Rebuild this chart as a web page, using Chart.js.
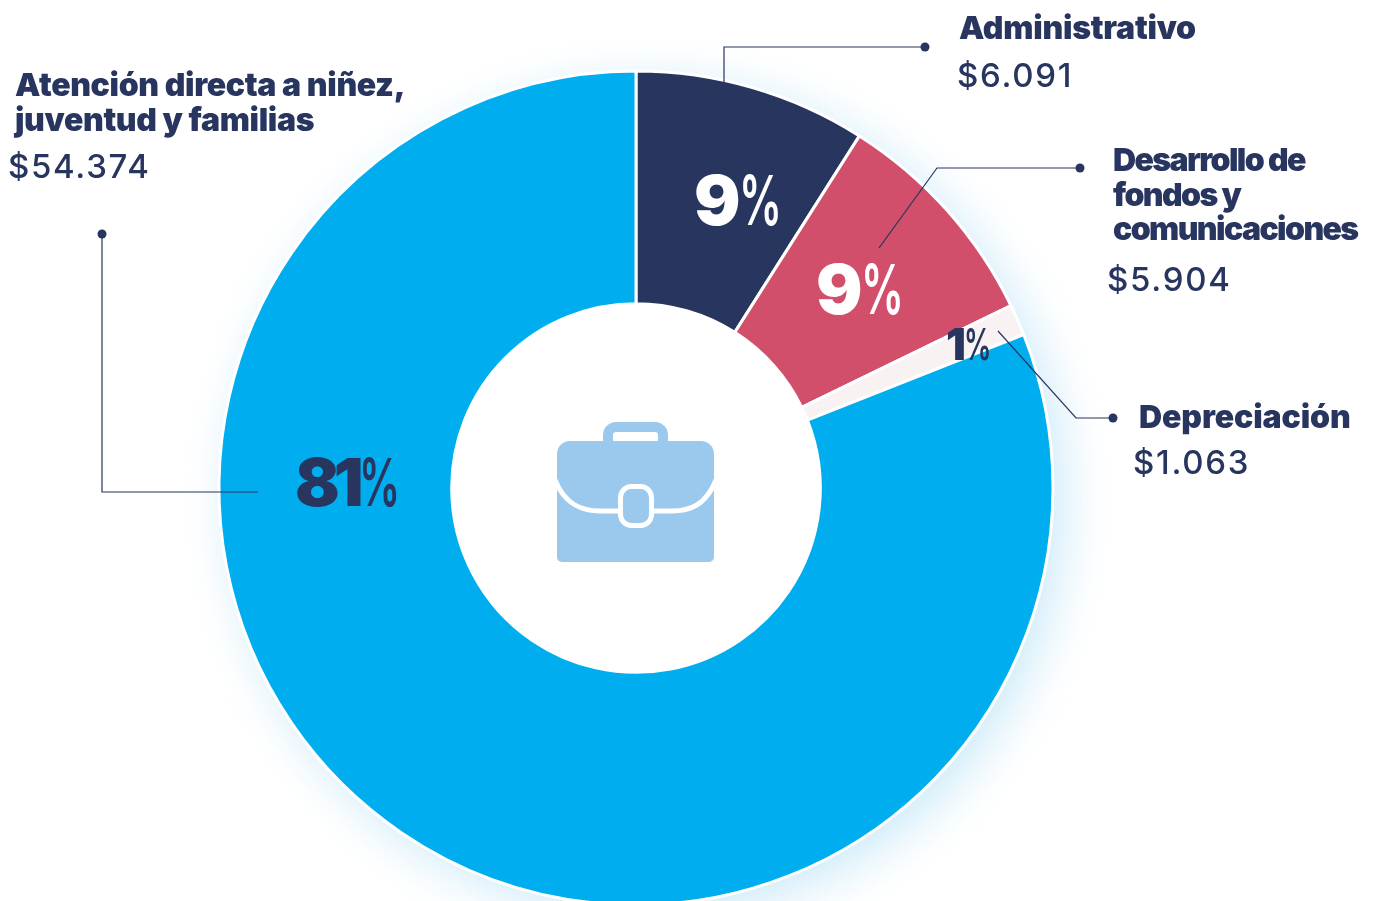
<!DOCTYPE html>
<html lang="es">
<head>
<meta charset="utf-8">
<title>Gastos</title>
<script src="https://cdn.jsdelivr.net/npm/chart.js@4"></script>
<style>
  html, body { margin: 0; width: 1375px; height: 901px; overflow: hidden; background: #fff; }
  canvas { position: absolute; left: 0; top: 0; }
  .t { position: absolute; color: #27355f; white-space: nowrap; font-family: Inter, sans-serif; }
  .name { font-weight: 900; font-size: 32px; line-height: 34.5px; }
  .amt { font-weight: 550; font-size: 33px; line-height: 40px; letter-spacing: 1.7px; }
  .pct { font-weight: 900; line-height: 1; }
  .pct span { display: inline-block; font-weight: 600; letter-spacing: 0; transform: scaleX(0.62); transform-origin: left center; margin-left: 1px; }
</style>
</head>
<body>
<canvas id="chart" width="1375" height="976"></canvas>
<div id="labels"></div>
<script>
'use strict';

const categories = ['Administrativo', 'Desarrollo de fondos y comunicaciones', 'Depreciación', 'Atención directa a niñez, juventud y familias'];
const sliceShare = [9.0, 8.8, 1.2, 81.0];
const pctLabels  = ['9', '9', '1', '81'];
const amounts    = ['$6.091', '$5.904', '$1.063', '$54.374'];
const sliceColors = ['#27355f', '#d14f6a', '#f8f2f2', '#00adee'];

const NAVY = '#27355f';

// ── GLOW BEHIND THE RING ──
const glow = {
  id: 'glow',
  beforeDatasetsDraw(chart) {
    const arc = chart.getDatasetMeta(0).data[0];
    const { ctx } = chart;
    const cx = arc.x + 12, cy = arc.y + 12;
    const g = ctx.createRadialGradient(cx, cy, arc.outerRadius - 12, cx, cy, arc.outerRadius + 52);
    g.addColorStop(0, 'rgba(190,228,248,0.55)');
    g.addColorStop(0.45, 'rgba(215,238,250,0.3)');
    g.addColorStop(1, 'rgba(255,255,255,0)');
    ctx.save();
    ctx.fillStyle = g;
    ctx.beginPath();
    ctx.arc(cx, cy, arc.outerRadius + 52, 0, Math.PI * 2);
    ctx.arc(arc.x, arc.y, arc.outerRadius - 4, 0, Math.PI * 2, true);
    ctx.fill();
    ctx.restore();
  }
};

// ── LEADER LINES ──
const leaderPaths = [
  [[724, 82], [724, 47], [925, 47]],
  [[879, 248], [937, 168], [1080, 168]],
  [[998, 331], [1076, 418], [1113, 418]],
  [[258, 492], [102, 492], [102, 234]]
];
const leaders = {
  id: 'leaders',
  afterDatasetsDraw(chart) {
    const { ctx } = chart;
    ctx.save();
    ctx.strokeStyle = NAVY;
    ctx.fillStyle = NAVY;
    ctx.lineWidth = 1.2;
    leaderPaths.forEach(p => {
      ctx.beginPath();
      p.forEach(([x, y], i) => i ? ctx.lineTo(x, y) : ctx.moveTo(x, y));
      ctx.stroke();
      const [ex, ey] = p[p.length - 1];
      ctx.beginPath();
      ctx.arc(ex, ey, 4.5, 0, Math.PI * 2);
      ctx.fill();
    });
    ctx.restore();
  }
};

// ── BRIEFCASE ICON ──
const briefcase = {
  id: 'briefcase',
  afterDatasetsDraw(chart) {
    const { ctx } = chart;
    ctx.save();
    ctx.fillStyle = '#9bc9ee';
    ctx.beginPath();
    ctx.roundRect(603, 422, 65, 30, 13);
    ctx.roundRect(613, 432, 45, 22, 3);
    ctx.fill('evenodd');
    ctx.beginPath();
    ctx.roundRect(557, 441, 157, 121, [13, 13, 5, 5]);
    ctx.fill();
    ctx.clip();
    ctx.strokeStyle = '#fff';
    ctx.lineWidth = 5;
    ctx.beginPath();
    ctx.moveTo(555, 480);
    ctx.bezierCurveTo(565, 505, 582, 511, 600, 511);
    ctx.lineTo(672, 511);
    ctx.bezierCurveTo(690, 511, 706, 505, 716, 480);
    ctx.stroke();
    ctx.beginPath();
    ctx.roundRect(620.5, 486.5, 31, 39, 11);
    ctx.fillStyle = '#9bc9ee';
    ctx.fill();
    ctx.stroke();
    ctx.restore();
  }
};

new Chart(document.getElementById('chart'), {
  type: 'doughnut',
  data: {
    labels: categories,
    datasets: [{ data: sliceShare, backgroundColor: sliceColors, borderColor: '#fff', borderWidth: 3, borderAlign: 'center', hoverOffset: 0 }]
  },
  options: {
    responsive: false,
    devicePixelRatio: 1,
    animation: false,
    cutout: '44.2%',
    layout: { padding: { left: 217.5, right: 320.5, top: 69.5, bottom: 69.5 } },
    plugins: { legend: { display: false }, tooltip: { enabled: false } }
  },
  plugins: [glow, leaders, briefcase]
});

// ── TEXT ──
const nameLines = [['Administrativo'], ['Desarrollo de', 'fondos y', 'comunicaciones'], ['Depreciación'], ['Atención directa a niñez,', 'juventud y familias']];
const namePos = [[959, 11], [1113, 143], [1139, 400], [15, 68]];
const nameSpacing = [-0.25, -1.6, -0.1, -0.35];
const amtPos  = [[957, 55], [1107, 259], [1133, 442], [8, 146]];
const pctPos  = [[694, 166, 69, '#fff', -3], [816, 255, 69, '#fff', -3], [946, 322, 44, NAVY, -3], [295, 449, 66, NAVY, -6]];

const host = document.getElementById('labels');
function addText(cls, html, x, y, extra = '') {
  const d = document.createElement('div');
  d.className = 't ' + cls;
  d.style.cssText = `left:${x}px;top:${y}px;${extra}`;
  d.innerHTML = html;
  host.appendChild(d);
}
categories.forEach((_, i) => {
  addText('name', nameLines[i].join('<br>'), namePos[i][0], namePos[i][1], `letter-spacing:${nameSpacing[i]}px;`);
  addText('amt', amounts[i], amtPos[i][0], amtPos[i][1]);
  const [x, y, size, color, ls] = pctPos[i];
  addText('pct', `${pctLabels[i]}<span>%</span>`, x, y, `font-size:${size}px;color:${color};letter-spacing:${ls}px;`);
});
</script>
</body>
</html>
